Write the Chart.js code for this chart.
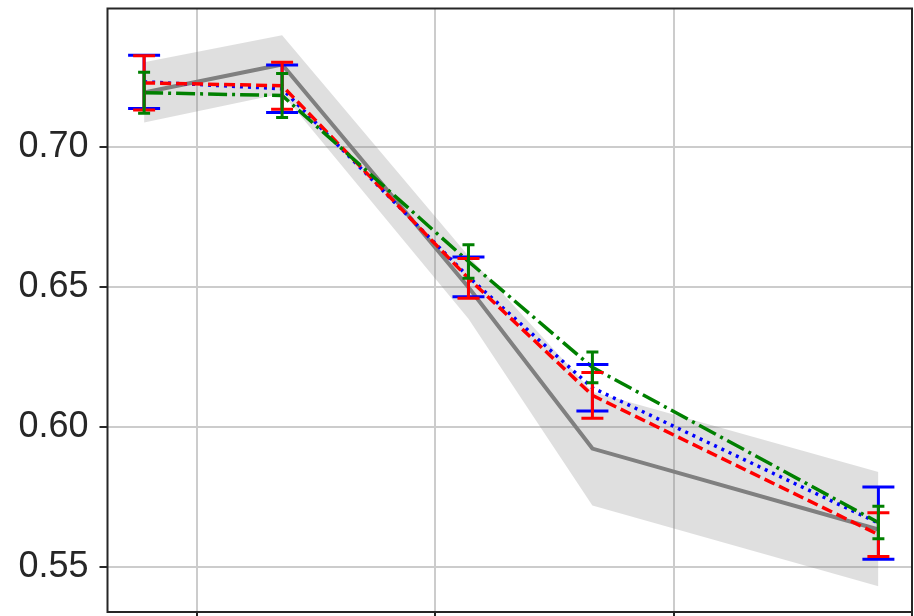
<!DOCTYPE html>
<html><head><meta charset="utf-8">
<script src="https://cdn.jsdelivr.net/npm/chart.js@4/dist/chart.umd.min.js"></script>
<style>html,body{margin:0;padding:0;background:#fff;overflow:hidden}canvas{display:block}</style>
</head><body>
<canvas id="c" width="914" height="616"></canvas>
<script>
// x positions (in grid units) of the five measured points
const xPositions = [-0.222, 0.357, 1.139, 1.659, 2.859];
// grey reference line and its shaded band
const baseline = [0.7196, 0.7296, 0.6500, 0.5924, 0.5635];
const baselineLow = [0.7089, 0.7192, 0.6388, 0.5721, 0.5432];
const baselineHigh = [0.7304, 0.7400, 0.6612, 0.6127, 0.5840];
// red dashed series
const redMean = [0.7230, 0.7220, 0.6532, 0.6114, 0.5617];
const redErr = [0.0097, 0.0084, 0.0071, 0.0082, 0.0078];
// blue dotted series
const blueMean = [0.7234, 0.7209, 0.6537, 0.6141, 0.5658];
const blueErr = [0.0095, 0.0085, 0.0071, 0.0083, 0.0129];
// green dash-dot series
const greenMean = [0.7195, 0.7185, 0.6592, 0.6214, 0.5660];
const greenErr = [0.0073, 0.0079, 0.0060, 0.0055, 0.0058];
// ticks
const yTickValues = [0.55, 0.60, 0.65, 0.70];
const xGridValues = [0, 1, 2, 3];

const pts = arr => xPositions.map((x, i) => ({x: x, y: arr[i]}));

const errorSeries = [
  {mean: blueMean, err: blueErr, color: '#0000ff', cap: 16},
  {mean: redMean, err: redErr, color: '#ff0000', cap: 11},
  {mean: greenMean, err: greenErr, color: '#008000', cap: 6}
];

const errorBarPlugin = {
  id: 'errbars',
  afterDatasetsDraw(chart) {
    const ctx = chart.ctx, xs = chart.scales.x, ys = chart.scales.y;
    errorSeries.forEach(s => {
      ctx.save();
      ctx.strokeStyle = s.color;
      ctx.lineWidth = 3;
      ctx.setLineDash([]);
      s.mean.forEach((m, i) => {
        const px = xs.getPixelForValue(xPositions[i]);
        const top = ys.getPixelForValue(m + s.err[i]);
        const bot = ys.getPixelForValue(m - s.err[i]);
        ctx.beginPath();
        ctx.moveTo(px, top); ctx.lineTo(px, bot);
        ctx.moveTo(px - s.cap, top); ctx.lineTo(px + s.cap, top);
        ctx.moveTo(px - s.cap, bot); ctx.lineTo(px + s.cap, bot);
        ctx.stroke();
      });
      ctx.restore();
    });
  }
};

const framePlugin = {
  id: 'frame',
  afterDraw(chart) {
    const a = chart.chartArea, ctx = chart.ctx;
    ctx.save();
    ctx.strokeStyle = '#262626';
    ctx.lineWidth = 2;
    ctx.setLineDash([]);
    ctx.strokeRect(a.left, a.top, a.right - a.left, a.bottom - a.top);
    ctx.restore();
  }
};

const lineDefaults = {pointRadius: 0, tension: 0, fill: false, borderCapStyle: 'butt'};

new Chart(document.getElementById('c'), {
  type: 'line',
  data: {
    datasets: [
      Object.assign({}, lineDefaults, {label: 'band low', data: pts(baselineLow), borderColor: 'transparent', borderWidth: 0, order: 10}),
      Object.assign({}, lineDefaults, {label: 'band high', data: pts(baselineHigh), borderColor: 'transparent', borderWidth: 0, fill: '-1', backgroundColor: 'rgba(128,128,128,0.25)', order: 9}),
      Object.assign({}, lineDefaults, {label: 'baseline', data: pts(baseline), borderColor: '#808080', borderWidth: 4, order: 8}),
      Object.assign({}, lineDefaults, {label: 'blue', data: pts(blueMean), borderColor: '#0000ff', borderWidth: 3.5, borderDash: [3, 5], order: 7}),
      Object.assign({}, lineDefaults, {label: 'red', data: pts(redMean), borderColor: '#ff0000', borderWidth: 3.5, borderDash: [11, 5], order: 6}),
      Object.assign({}, lineDefaults, {label: 'green', data: pts(greenMean), borderColor: '#008000', borderWidth: 3.5, borderDash: [19, 5, 3, 5], order: 5})
    ]
  },
  options: {
    responsive: false,
    animation: false,
    devicePixelRatio: 1,
    layout: {padding: {top: 8.5, right: 2, bottom: 0, left: 0}},
    plugins: {legend: {display: false}, tooltip: {enabled: false}, title: {display: false}},
    scales: {
      x: {
        type: 'linear', min: -0.3756, max: 3.0,
        afterBuildTicks: s => { s.ticks = xGridValues.map(v => ({value: v})); },
        afterFit: s => { s.height = 4; s.paddingLeft = 0; s.paddingRight = 0; },
        grid: {color: '#cccccc', lineWidth: 2, tickColor: '#262626', tickLength: 8, drawTicks: true},
        border: {display: false},
        ticks: {display: false}
      },
      y: {
        type: 'linear', min: 0.53404, max: 0.74957,
        afterBuildTicks: s => { s.ticks = yTickValues.map(v => ({value: v})); },
        afterFit: s => { s.width = 107.5; s.paddingTop = 0; s.paddingBottom = 0; },
        grid: {color: '#cccccc', lineWidth: 2, tickColor: '#262626', tickLength: 8, drawTicks: true},
        border: {display: false},
        ticks: {
          color: '#262626', padding: 11,
          font: {family: "'Liberation Sans', Arial, sans-serif", size: 36},
          callback: v => Number(v).toFixed(2)
        }
      }
    }
  },
  plugins: [errorBarPlugin, framePlugin]
});
</script>
</body></html>
